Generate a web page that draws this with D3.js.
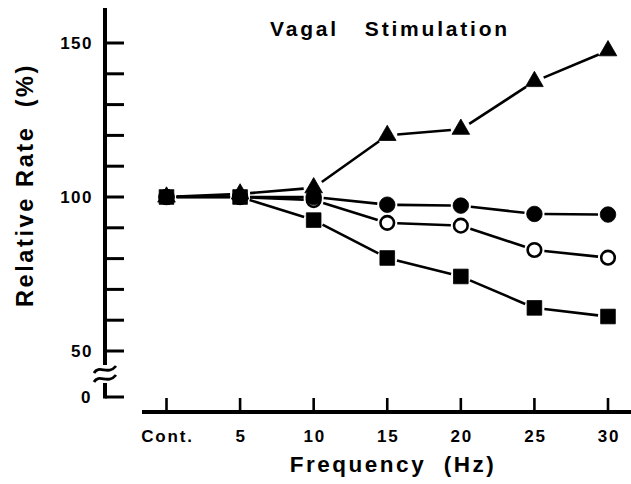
<!DOCTYPE html>
<html><head><meta charset="utf-8">
<script src="https://cdn.jsdelivr.net/npm/d3@7"></script>
<style>
html,body{margin:0;padding:0;background:#fff;}
svg{display:block;}
text{font-family:"Liberation Sans",Arial,Helvetica,sans-serif;font-weight:bold;fill:#000;}
</style></head>
<body>
<svg id="chart" width="631" height="484"></svg>
<script>
// ---- data ----
const categories = ["Cont.", "5", "10", "15", "20", "25", "30"];
const triangleSeries = [100, 101, 103, 120, 122, 137.5, 147.5];
const filledCircleSeries = [100, 100, 100, 97.5, 97.2, 94.5, 94.3];
const openCircleSeries = [100, 100, 99, 91.6, 90.7, 82.8, 80.3];
const squareSeries = [100, 100, 92.5, 80.2, 74.2, 64, 61.2];
const yTickValues = [0, 50, 60, 70, 80, 90, 100, 110, 120, 130, 140, 150];
const yTickLabels = ["0", "50", "100", "150"];
const title = "Vagal Stimulation";
const xTitle = "Frequency  (Hz)";
const yTitle = "Relative Rate  (%)";

const svg = d3.select("#chart");

const x = d3.scalePoint().domain(categories).range([166.5, 608]);
// broken axis: 0 sits below the break, 50-150 linear
const y = d3.scaleLinear().domain([0, 50, 150]).range([397, 351, 43]);

const axisX = 105;
const axisY = 412;

// ---- Y axis ----
const ya = svg.append("g");
ya.append("line").attr("x1", axisX).attr("x2", axisX).attr("y1", 8).attr("y2", y(50) + 14)
  .attr("stroke", "#000").attr("stroke-width", 4);
ya.append("line").attr("x1", axisX).attr("x2", axisX).attr("y1", y(0) - 14).attr("y2", y(0) + 1.5)
  .attr("stroke", "#000").attr("stroke-width", 4);
// break marks
[y(50) + 18, y(50) + 27].forEach(yy => {
  ya.append("path")
    .attr("d", `M${axisX - 11},${yy + 4} C${axisX - 6},${yy - 5} ${axisX + 3},${yy + 7} ${axisX + 11},${yy - 3}`)
    .attr("fill", "none").attr("stroke", "#000").attr("stroke-width", 2.8);
});
ya.selectAll(".yt").data(yTickValues).enter().append("line")
  .attr("x1", axisX).attr("x2", axisX + 19)
  .attr("y1", d => y(d)).attr("y2", d => y(d))
  .attr("stroke", "#000").attr("stroke-width", 3);
ya.selectAll(".yl").data(yTickLabels).enter().append("text")
  .attr("x", d => d === "0" ? 92 : 93).attr("y", d => y(+d))
  .attr("dy", "0.36em").attr("text-anchor", "end")
  .style("font-size", "17px").style("letter-spacing", "1.5px")
  .text(d => d);

// ---- X axis ----
const xa = svg.append("g");
xa.append("line").attr("x1", 142).attr("x2", 631).attr("y1", axisY).attr("y2", axisY)
  .attr("stroke", "#000").attr("stroke-width", 4);
xa.selectAll(".xt").data(categories).enter().append("line")
  .attr("x1", d => x(d)).attr("x2", d => x(d))
  .attr("y1", axisY).attr("y2", axisY - 14)
  .attr("stroke", "#000").attr("stroke-width", 2.6);
xa.selectAll(".xl").data(categories).enter().append("text")
  .attr("x", d => x(d) + 1).attr("y", 442)
  .attr("text-anchor", "middle")
  .style("font-size", "17px").style("letter-spacing", "1.8px")
  .text(d => d);

// ---- titles ----
svg.append("text").attr("x", 390).attr("y", 36).attr("text-anchor", "middle")
  .style("font-size", "21px").style("letter-spacing", "2.8px").style("white-space", "pre")
  .text(title.replace(" ", "   "));
svg.append("text").attr("x", 393).attr("y", 472).attr("text-anchor", "middle")
  .style("font-size", "22.5px").style("letter-spacing", "2.5px").style("white-space", "pre")
  .text(xTitle);
svg.append("text").attr("transform", `translate(33,${185}) rotate(-90)`).attr("text-anchor", "middle")
  .style("font-size", "23.5px").style("letter-spacing", "2.6px").style("white-space", "pre")
  .text(yTitle);

// ---- series ----
const series = [
  { values: squareSeries, sym: d3.symbolSquare, size: 215, fill: "#000" },
  { values: openCircleSeries, sym: d3.symbolCircle, size: 145, fill: "#fff" },
  { values: filledCircleSeries, sym: d3.symbolCircle, size: 190, fill: "#000" },
  { values: triangleSeries, sym: d3.symbolTriangle, size: 135, fill: "#000" }
];

const gap = 10;
series.forEach(s => {
  const pts = categories.map((c, i) => [x(c), y(s.values[i])]);
  const g = svg.append("g");
  for (let i = 0; i < pts.length - 1; i++) {
    const [x1, y1] = pts[i], [x2, y2] = pts[i + 1];
    const dx = x2 - x1, dy = y2 - y1, L = Math.hypot(dx, dy);
    const ux = dx / L, uy = dy / L;
    g.append("line")
      .attr("x1", x1 + ux * gap).attr("y1", y1 + uy * gap)
      .attr("x2", x2 - ux * gap).attr("y2", y2 - uy * gap)
      .attr("stroke", "#000").attr("stroke-width", 2.6);
  }
});
series.forEach(s => {
  svg.append("g").selectAll("path").data(categories).enter().append("path")
    .attr("transform", (c, i) => `translate(${x(c)},${y(s.values[i])})`)
    .attr("d", d3.symbol().type(s.sym).size(s.size))
    .attr("fill", s.fill)
    .attr("stroke", "#000").attr("stroke-width", s.fill === "#fff" ? 2.6 : 0.8);
});
</script>
</body></html>
